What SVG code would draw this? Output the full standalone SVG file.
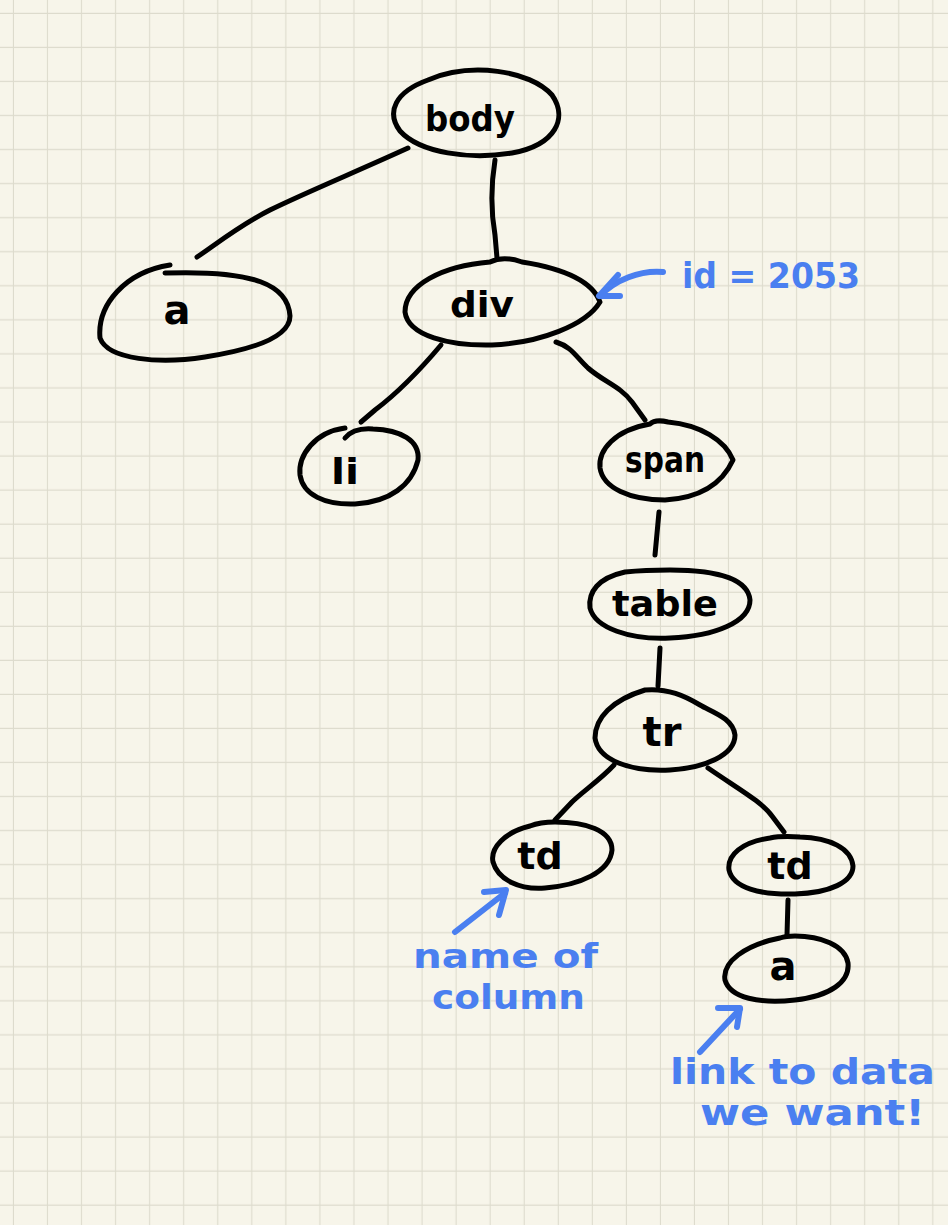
<svg xmlns="http://www.w3.org/2000/svg" width="948" height="1225" viewBox="0 0 948 1225">
<style>
.node{fill:none;stroke:#000;stroke-width:5;stroke-linecap:round;stroke-linejoin:round}
.edge{fill:none;stroke:#000;stroke-width:5;stroke-linecap:round}
.lbl{font-family:"DejaVu Sans",sans-serif;font-size:36px;fill:#000;text-anchor:middle;font-weight:bold}
.ann{fill:none;stroke:#4a7ff0;stroke-width:6;stroke-linecap:round;stroke-linejoin:round}
.atext{font-family:"DejaVu Sans",sans-serif;font-weight:bold;fill:#4a7ff0;font-size:36px}
</style>
<defs>
<pattern id="grid" patternUnits="userSpaceOnUse" x="-20.05" y="-20.05" width="34.05" height="34.05">
<path d="M34.05,0 V34.05 M0,34.05 H34.05" stroke="#dddbcd" stroke-width="2.2" fill="none"/>
</pattern>
</defs>
<rect width="948" height="1225" fill="#f7f5ea"/>
<rect width="948" height="1225" fill="url(#grid)"/>

<g id="connectors">
<path class="edge" d="M408,148 C360,170 300,195 270,210 C240,225 215,245 197,257"/>
<path class="edge" d="M495,160 C491,185 491,212 495,235 L497,258"/>
<path class="edge" d="M441,345 C420,370 395,395 375,410 L361,422"/>
<path class="edge" d="M556,342 C572,347 576,357 588,368 C604,382 620,386 632,402 L645,420"/>
<path class="edge" d="M659,512 L655,555"/>
<path class="edge" d="M660,648 L658,686"/>
<path class="edge" d="M614,765 C600,780 582,792 572,802 L555,820"/>
<path class="edge" d="M708,768 C740,790 762,802 772,816 L784,832"/>
<path class="edge" d="M788,900 L787,935"/>
</g>

<g id="node-body">
<path class="node" d="M428,80 C470,62 530,70 552,95 C568,118 556,145 512,153 C470,160 420,153 400,131 C386,112 395,92 428,80 Z"/>
<text class="lbl" x="470" y="131" textLength="90" lengthAdjust="spacingAndGlyphs">body</text>
</g>
<g id="node-a1">
<path class="node" d="M170,265 C125,272 97,305 100,338 C108,360 160,364 205,357 C250,350 290,338 290,316 C288,285 255,270 165,273"/>
<text class="lbl" x="177" y="324" style="font-size:40px">a</text>
</g>
<g id="node-div">
<path class="node" d="M490,262 C442,266 405,285 405,312 C408,336 450,346 492,345 C540,343 586,325 600,302 C592,280 560,268 522,262 C508,257 498,258 490,262 Z"/>
<text class="lbl" x="482" y="317" textLength="64" lengthAdjust="spacingAndGlyphs">div</text>
</g>
<g id="node-li">
<path class="node" d="M345,428 C315,432 298,455 300,475 C303,495 325,505 355,504 C390,502 412,485 418,460 C420,440 400,430 373,429 C360,428 350,432 345,438"/>
<text class="lbl" x="345" y="484" textLength="28" lengthAdjust="spacingAndGlyphs">li</text>
</g>
<g id="node-span">
<path class="node" d="M650,424 C615,430 598,450 600,468 C603,488 630,500 665,500 C700,498 722,484 733,460 C725,440 700,425 668,422 C660,420 653,421 650,424 Z"/>
<text class="lbl" x="665" y="472" textLength="80" lengthAdjust="spacingAndGlyphs">span</text>
</g>
<g id="node-table">
<path class="node" d="M625,572 C598,578 588,592 590,608 C595,628 630,640 670,638 C715,636 750,622 750,600 C748,580 720,570 670,570 C650,570 635,571 625,572 Z"/>
<text class="lbl" x="665" y="616" textLength="106" lengthAdjust="spacingAndGlyphs">table</text>
</g>
<g id="node-tr">
<path class="node" d="M645,690 C612,700 595,718 595,738 C598,760 630,772 670,770 C705,768 735,755 735,735 C733,718 712,712 700,705 C685,696 668,688 645,690 Z"/>
<text class="lbl" x="662" y="746" style="font-size:40px">tr</text>
</g>
<g id="node-tdL">
<path class="node" d="M530,826 C505,832 490,848 493,862 C498,880 520,890 545,888 C580,885 610,872 612,850 C612,830 585,822 555,822 C540,822 530,826 530,826 Z"/>
<text class="lbl" x="540" y="869" style="font-size:38px">td</text>
</g>
<g id="node-tdR">
<path class="node" d="M770,838 C742,842 727,855 729,870 C733,888 760,895 795,894 C830,893 853,882 853,866 C851,848 830,838 800,837 C785,836 775,837 770,838 Z"/>
<text class="lbl" x="790" y="879" style="font-size:38px">td</text>
</g>
<g id="node-a2">
<path class="node" d="M780,938 C745,945 722,962 725,980 C730,998 760,1004 795,1000 C830,996 850,982 848,963 C845,945 820,936 795,936 C788,936 783,937 780,938 Z"/>
<text class="lbl" x="783" y="980" style="font-size:40px">a</text>
</g>

<g id="annotations">
<path class="ann" d="M663,272 C640,270 615,280 600,296"/>
<path class="ann" d="M618,275 L599,296 L620,296"/>
<text class="atext" x="682" y="288" textLength="178" lengthAdjust="spacingAndGlyphs">id = 2053</text>

<path class="ann" d="M455,932 L505,893"/>
<path class="ann" d="M484,892 L506,890 L499,915"/>
<text class="atext" x="413" y="968" textLength="185" lengthAdjust="spacingAndGlyphs" style="font-size:34px">name of</text>
<text class="atext" x="432" y="1009" textLength="153" lengthAdjust="spacingAndGlyphs" style="font-size:34px">column</text>

<path class="ann" d="M700,1052 L740,1009"/>
<path class="ann" d="M718,1008 L740,1008 L737,1027"/>
<text class="atext" x="670" y="1084" textLength="265" lengthAdjust="spacingAndGlyphs">link to data</text>
<text class="atext" x="700" y="1125" textLength="225" lengthAdjust="spacingAndGlyphs">we want!</text>
</g>
</svg>
